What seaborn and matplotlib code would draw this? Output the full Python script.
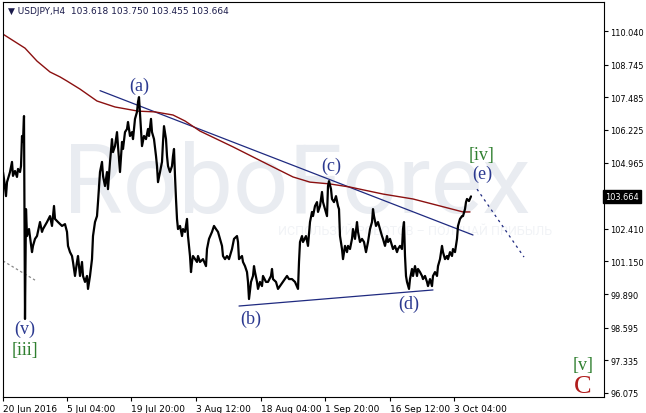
import numpy as np
import pandas as pd
import matplotlib
matplotlib.use("Agg")
import matplotlib.pyplot as plt
import seaborn as sns

# H4 bar number and price path (USDJPY)
bars = [3, 4, 6, 7, 10, 12, 13, 15, 17, 18, 20, 21, 22, 23, 24, 25, 26, 27, 29, 32,
        33, 35, 37, 40, 42, 43, 47, 50, 52, 54, 55, 58, 62, 65, 67, 68, 70, 72, 73, 75,
        77, 78, 80, 82, 83, 85, 87, 88, 90, 92, 93, 95, 97, 98, 100, 102, 103, 105, 107, 108,
        110, 112, 113, 115, 117, 118, 120, 122, 123, 125, 127, 128, 130, 132, 133, 135, 137, 138, 139, 141,
        142, 144, 146, 148, 149, 151, 152, 154, 156, 157, 158, 160, 162, 163, 164, 166, 167, 168, 170, 172,
        173, 174, 175, 176, 177, 178, 180, 182, 183, 185, 187, 188, 190, 191, 192, 193, 197, 198, 200, 203,
        206, 207, 209, 212, 214, 216, 218, 220, 222, 223, 225, 227, 229, 232, 234, 237, 238, 239, 242, 243,
        245, 247, 248, 249, 251, 253, 254, 255, 257, 258, 260, 262, 263, 266, 268, 271, 272, 273, 276, 278,
        280, 283, 285, 287, 289, 292, 295, 298, 299, 300, 302, 303, 306, 308, 310, 312, 313, 315, 317, 318,
        320, 322, 323, 325, 327, 328, 329, 331, 332, 334, 336, 338, 339, 340, 342, 343, 345, 347, 348, 350,
        352, 353, 355, 357, 358, 360, 362, 364, 366, 368, 370, 372, 373, 374, 376, 378, 380, 382, 383, 385,
        387, 388, 390, 392, 393, 395, 397, 398, 400, 402, 403, 404, 405, 406, 407, 409, 410, 412, 413, 415,
        417, 418, 420, 422, 423, 425, 427, 428, 430, 432, 433, 435, 437, 438, 440, 442, 443, 445, 447, 448,
        450, 452, 453, 455, 457, 458, 460, 462, 463, 465, 466, 467, 469, 471]
price = [104.60, 104.33, 103.67, 104.21, 104.60, 104.99, 104.45, 104.64, 104.41, 104.72, 104.60, 104.83, 105.99, 105.76, 106.76, 98.93, 103.17, 102.13, 102.40, 101.51,
         101.75, 102.02, 102.13, 102.67, 102.29, 102.40, 102.67, 102.90, 102.52, 103.29, 102.79, 102.67, 102.52, 102.59, 102.29, 101.75, 101.51, 101.36, 101.13, 100.59,
         101.13, 101.36, 100.59, 101.13, 100.59, 100.36, 100.59, 100.09, 100.59, 101.24, 102.13, 102.67, 102.90, 103.44, 104.60, 104.99, 104.45, 104.06, 104.60, 103.94,
         104.99, 105.87, 105.37, 105.60, 106.14, 105.60, 104.60, 105.76, 105.49, 106.14, 106.26, 106.53, 105.99, 106.14, 105.87, 106.65, 106.92, 107.30, 107.49, 106.26,
         105.60, 105.99, 105.87, 106.26, 105.99, 106.65, 106.14, 105.87, 105.22, 104.83, 104.21, 104.60, 104.99, 105.76, 106.37, 105.87, 105.22, 104.83, 104.60, 104.83,
         105.22, 105.49, 104.45, 103.56, 102.79, 102.40, 102.52, 102.13, 102.40, 102.29, 102.79, 102.13, 101.36, 100.74, 101.13, 101.36, 101.13, 101.36, 101.13, 101.24,
         100.97, 101.63, 102.02, 102.29, 102.52, 102.40, 102.29, 102.02, 101.75, 101.36, 101.24, 101.36, 101.24, 101.63, 102.02, 102.13, 101.90, 101.24, 101.36, 101.13,
         100.97, 100.74, 100.36, 99.70, 100.36, 100.59, 100.97, 100.74, 100.36, 100.09, 100.36, 100.20, 100.59, 100.36, 100.36, 100.59, 100.86, 100.47, 100.36, 100.09,
         100.20, 100.36, 100.47, 100.59, 100.47, 100.47, 100.36, 100.09, 101.13, 101.90, 102.13, 101.90, 102.13, 101.75, 102.67, 103.06, 102.90, 103.29, 103.44, 103.06,
         103.29, 103.83, 103.44, 103.17, 102.90, 104.06, 104.25, 103.94, 103.56, 103.44, 103.67, 103.29, 103.17, 102.13, 101.63, 101.24, 101.75, 101.51, 101.75, 101.63,
         102.02, 102.40, 102.02, 102.67, 102.29, 101.90, 102.02, 101.90, 101.51, 101.90, 102.40, 102.67, 103.17, 102.90, 102.52, 102.67, 102.40, 102.13, 102.02, 101.75,
         102.13, 101.90, 102.02, 101.75, 101.63, 101.75, 101.51, 101.63, 101.75, 101.63, 102.40, 102.67, 101.36, 100.59, 100.36, 100.09, 100.47, 100.86, 100.59, 100.97,
         100.59, 100.86, 100.74, 100.59, 100.47, 100.59, 100.36, 100.20, 100.47, 100.20, 100.59, 100.74, 100.59, 100.97, 101.24, 101.75, 101.51, 101.24, 101.36, 101.24,
         101.51, 101.36, 101.63, 101.51, 102.02, 102.52, 102.79, 102.90, 102.90, 103.17, 103.44, 103.56, 103.48, 103.66]

# moving average (red)
ma_bars = [3, 25, 37, 50, 60, 67, 80, 97, 115, 138, 155, 173, 185, 200, 233, 267, 293, 310, 330, 350, 383, 413, 440, 463, 470]
ma_vals = [109.92, 109.38, 108.88, 108.46, 108.27, 108.11, 107.80, 107.34, 107.11, 106.95, 106.92, 106.80, 106.57, 106.18, 105.57, 104.91, 104.41, 104.21, 104.14, 104.02, 103.75, 103.56, 103.29, 103.06, 103.06]

# trend lines
upper_line_bars = [100, 473]
upper_line_vals = [107.74, 102.17]
lower_line_bars = [239, 433]
lower_line_vals = [99.43, 100.05]
proj_bars = [477, 524]
proj_vals = [103.94, 101.32]
old_bars = [3, 35]
old_vals = [101.17, 100.43]

tick_bars = [3, 67, 131, 196, 261, 325, 390, 454]
tick_labels = ["20 Jun 2016", "5 Jul 04:00", "19 Jul 20:00", "3 Aug 12:00",
               "18 Aug 04:00", "1 Sep 20:00", "16 Sep 12:00", "3 Oct 04:00"]
y_ticks = [110.040, 108.745, 107.485, 106.225, 104.965, 102.410, 101.150, 99.890, 98.595, 97.335, 96.075]
last_price = 103.664

df = pd.DataFrame({"bar": bars, "price": price})
ma = pd.DataFrame({"bar": ma_bars, "ma": ma_vals})

sns.set_style("white")
plt.rcParams["font.family"] = ["DejaVu Sans"]

fig = plt.figure(figsize=(6.46, 4.14), dpi=100)
ax = fig.add_axes([3 / 646, 16 / 414, 601 / 646, 395 / 414])

# watermark
ax.text(297, 103.06, "RoboForex", fontsize=70, color="#e9ecf1", ha="center",
        va="baseline", family="Roboto", zorder=0)
ax.text(415, 102.35, "ИСПОЛЬЗУЙ РОБОТОВ – ПОЛУЧАЙ ПРИБЫЛЬ", fontsize=9, color="#f1f3f6",
        ha="center", va="center", family="Roboto", zorder=0)

navy = "#1f2a80"
sns.lineplot(x=upper_line_bars, y=upper_line_vals, color=navy, lw=0.9, ax=ax)
sns.lineplot(x=lower_line_bars, y=lower_line_vals, color=navy, lw=0.9, ax=ax)
sns.lineplot(x=proj_bars, y=proj_vals, color=navy, lw=0.9, ls=(0, (2, 3)), ax=ax)
sns.lineplot(x=old_bars, y=old_vals, color="#888888", lw=0.9, ls=(0, (2, 2)), ax=ax)
sns.lineplot(data=ma, x="bar", y="ma", color="#8b1010", lw=1.0, ax=ax, sort=False, estimator=None)
sns.lineplot(data=df, x="bar", y="price", color="black", lw=1.6, ax=ax, sort=False, estimator=None)

# wave labels
blue = "#2b3990"
green = "#2f7f2f"
serif = "Liberation Serif"
for x, y, t in [(139, 107.96, "(a)"), (251, 98.97, "(b)"), (331, 104.87, "(c)"),
                (409, 99.55, "(d)"), (482, 104.56, "(e)"), (25, 98.58, "(v)")]:
    ax.text(x, y, t, color=blue, fontsize=13, family=serif, ha="center", va="center")
for x, y, t in [(25, 97.77, "[iii]"), (482, 105.26, "[iv]"), (583, 97.19, "[v]")]:
    ax.text(x, y, t, color=green, fontsize=13, family=serif, ha="center", va="center")
ax.text(583, 96.34, "C", color="#b01c1c", fontsize=19, family=serif, ha="center", va="center")

ax.set_xlim(3, 604)
ax.set_ylim(95.92, 111.16)
ax.set_xlabel("")
ax.set_ylabel("")

ax.yaxis.tick_right()
ax.set_yticks(y_ticks)
ax.set_yticklabels([f"{v:.3f}" for v in y_ticks])
ax.set_xticks(tick_bars)
ax.set_xticklabels(tick_labels, ha="left")
ax.tick_params(axis="both", length=3, width=0.8, colors="black", pad=2, direction="out")
ax.tick_params(axis="x", labelsize=6.5, bottom=True)
ax.tick_params(axis="y", labelsize=5.9, pad=1.5, right=True, left=False)
for s in ax.spines.values():
    s.set_color("black")
    s.set_linewidth(0.8)

# current price box
ax.text(1.002, last_price, f"{last_price:.3f}", transform=ax.get_yaxis_transform(),
        color="white", fontsize=5.9, va="center", ha="left",
        bbox=dict(facecolor="black", edgecolor="black", pad=1.5))

fig.text(8 / 646, 1 - 11 / 414, "▼ USDJPY,H4  103.618 103.750 103.455 103.664",
         fontsize=6.5, color="#1a1a4a", va="center", ha="left")

fig.savefig("out.png", dpi=100)
